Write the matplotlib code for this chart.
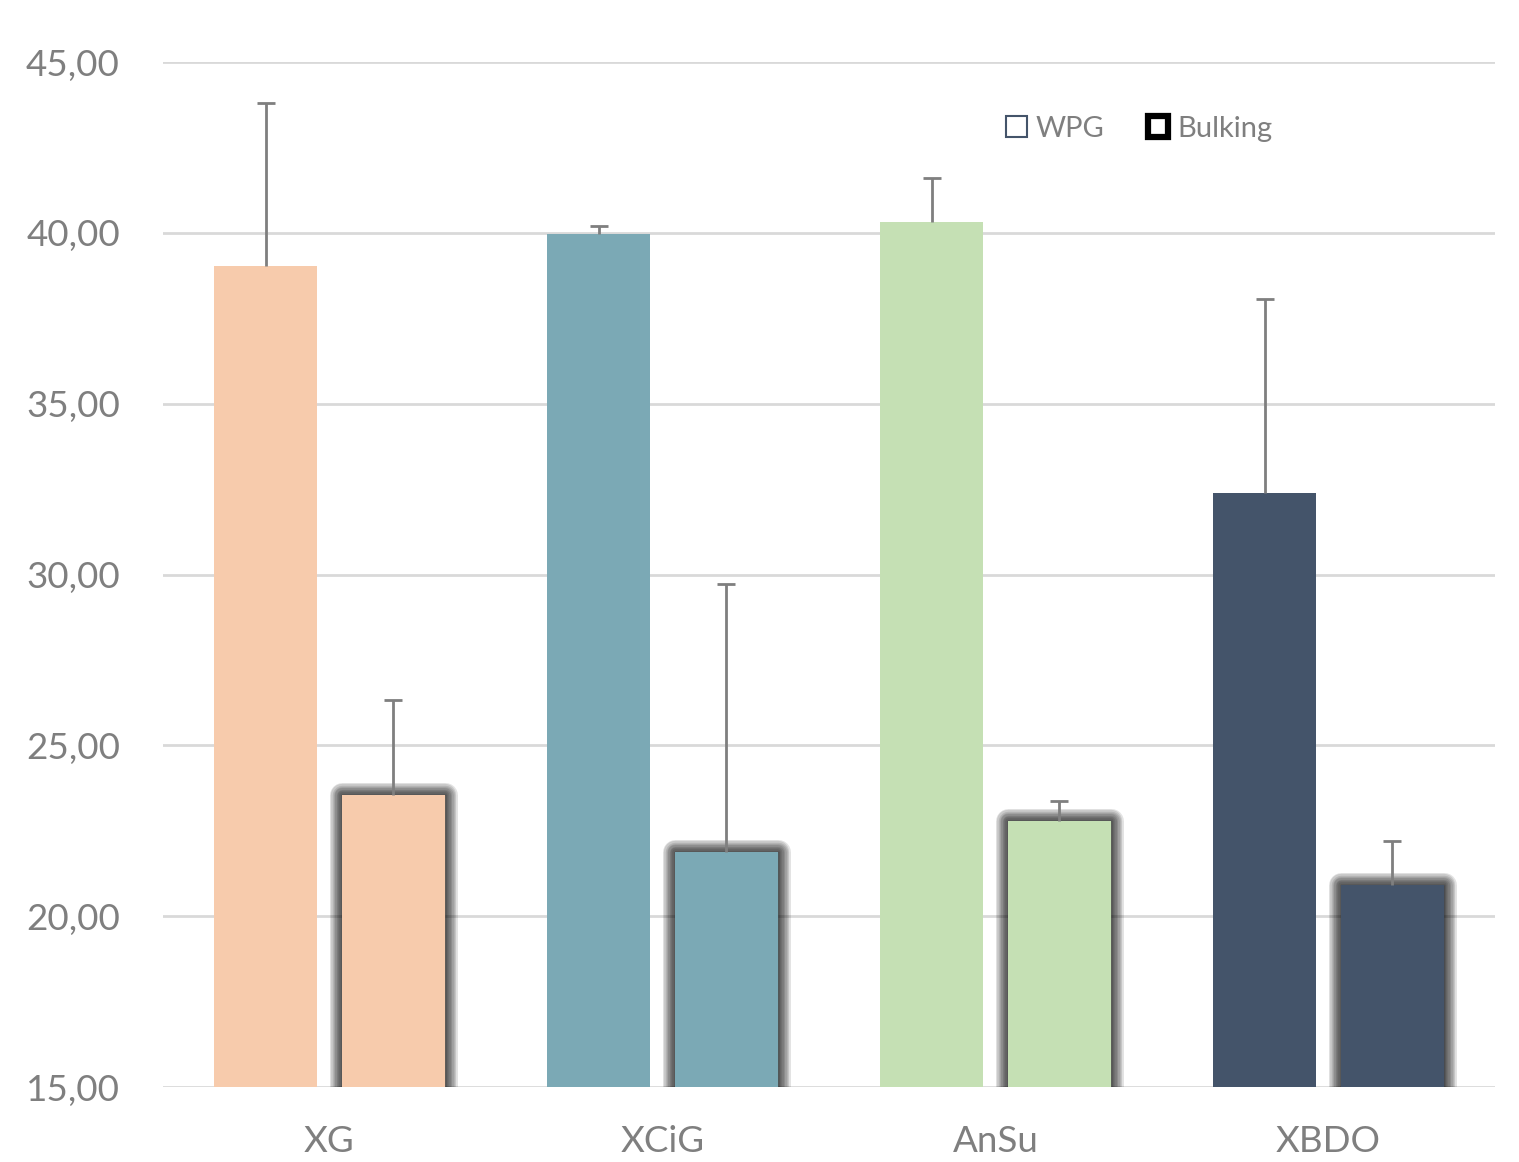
import matplotlib
matplotlib.use("Agg")
import matplotlib.pyplot as plt
import matplotlib.patheffects as pe
from matplotlib.patches import Patch
import numpy as np

categories = ["XG", "XCiG", "AnSu", "XBDO"]
wpg = [39.03, 39.97, 40.32, 32.39]
wpg_err = [4.77, 0.23, 1.28, 5.67]
bulking = [23.55, 21.88, 22.79, 20.91]
bulking_err = [2.78, 7.84, 0.58, 1.29]
colors = ["#F7CBAC", "#7BA9B5", "#C5E0B4", "#44546A"]
yticks = [15, 20, 25, 30, 35, 40, 45]

plt.rcParams['font.family'] = ['Lato', 'DejaVu Sans']
txt = "#7F7F7F"

fig = plt.figure(figsize=(15.19, 11.62), dpi=100)
ax = fig.add_axes([0.1073, 0.0645, 0.8769, 0.8821])

x = np.arange(len(categories))
w = 0.311
off = 0.192

ax.bar(x - off, wpg, width=w, color=colors, zorder=3)
glow = [pe.withStroke(linewidth=lw, foreground="#000000", alpha=0.11, joinstyle="round")
        for lw in range(18, 0, -2)] + [pe.Normal()]
bb = ax.bar(x + off, bulking, width=w, color=colors, zorder=3, linewidth=0)
for p in bb:
    p.set_path_effects(glow)

ecol = "#7F7F7F"
for xs, v, e in [(x - off, wpg, wpg_err), (x + off, bulking, bulking_err)]:
    v = np.array(v); e = np.array(e)
    ax.vlines(xs, v, v + e, color=ecol, lw=2, zorder=4)
    ax.plot(xs, v + e, ls="none", marker="_", markersize=13, mew=2, color=ecol, zorder=4)

ax.set_ylim(15, 45)
ax.set_xlim(-0.5, 3.5)
ax.set_yticks(yticks)
ax.set_yticklabels([f"{t:.2f}".replace(".", ",") for t in yticks])
ax.set_xticks(x)
ax.set_xticklabels(categories)
ax.tick_params(axis="both", length=0, labelsize=26.5, colors=txt)
ax.tick_params(axis="y", pad=31)
ax.tick_params(axis="x", pad=27)
ax.yaxis.grid(True, color="#D9D9D9", lw=2, zorder=0)
ax.set_axisbelow(True)
for s in ax.spines.values():
    s.set_visible(False)

handles = [Patch(facecolor="white", edgecolor="#44546A", linewidth=1.5, label="WPG"),
           Patch(facecolor="white", edgecolor="black", linewidth=4.5, label="Bulking")]
leg = ax.legend(handles=handles, loc="center", bbox_to_anchor=(0.733, 0.935),
                ncol=2, frameon=False, fontsize=21, handlelength=0.7, handleheight=0.7,
                handletextpad=0.3, columnspacing=1.5)
for t in leg.get_texts():
    t.set_color(txt)

fig.savefig("out.png", dpi=100)
